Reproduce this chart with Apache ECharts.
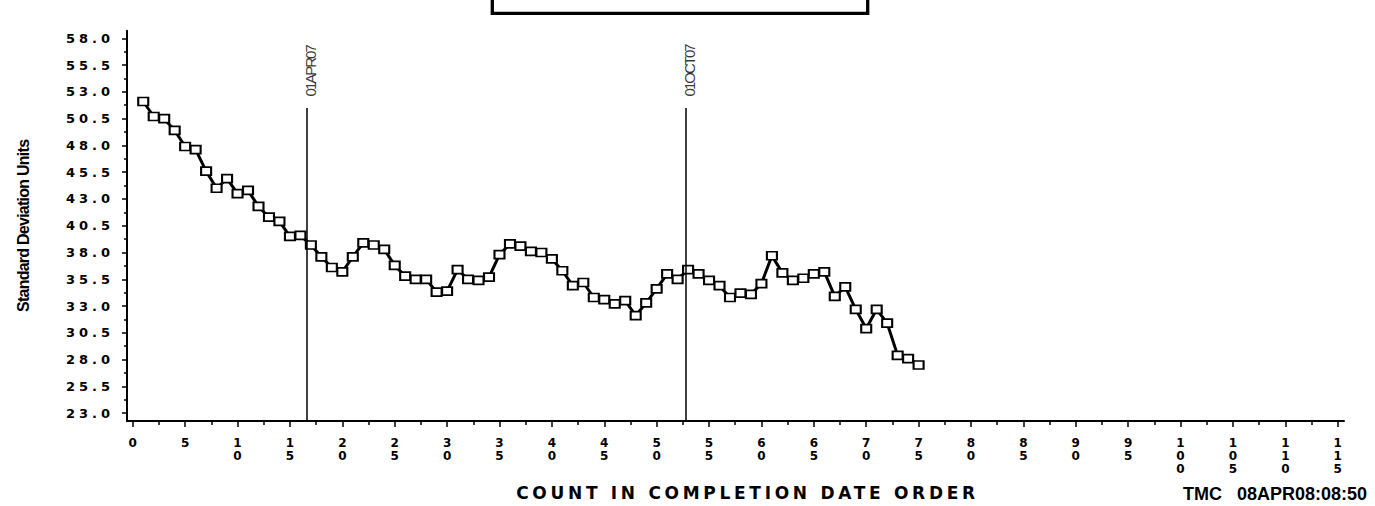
<!DOCTYPE html>
<html>
<head>
<meta charset="utf-8">
<script src="https://cdn.jsdelivr.net/npm/echarts@6/dist/echarts.min.js"></script>
<style>
html, body { margin: 0; padding: 0; background: #fff; }
#chart { width: 1375px; height: 506px; }
text[style*="zzlsa"] { letter-spacing: 4px; }
text[style*="zzlsb"] { letter-spacing: 3.7px; }
text[style*="zzlsc"] { letter-spacing: -2px; }
text[style*="zzlsd"] { letter-spacing: -0.75px; }
</style>
</head>
<body>
<div id="chart"></div>
<script>
// ---- data ----
const sdValues = [
  52.1, 50.7, 50.5, 49.4, 47.9, 47.6, 45.6, 44.0, 44.9, 43.5,
  43.8, 42.3, 41.3, 40.9, 39.5, 39.6, 38.7, 37.6, 36.6, 36.2,
  37.6, 38.9, 38.7, 38.3, 36.8, 35.8, 35.5, 35.5, 34.3, 34.4,
  36.4, 35.5, 35.4, 35.7, 37.8, 38.8, 38.6, 38.1, 38.0, 37.4,
  36.3, 34.9, 35.2, 33.8, 33.6, 33.2, 33.5, 32.1, 33.3, 34.6,
  36.0, 35.5, 36.4, 36.0, 35.4, 34.9, 33.8, 34.2, 34.1, 35.1,
  37.7, 36.1, 35.4, 35.6, 36.0, 36.2, 33.9, 34.8, 32.7, 30.9,
  32.7, 31.4, 28.4, 28.1, 27.5
];
const counts = sdValues.map((_, i) => i + 1);
const yTickLabels = ['23.0', '25.5', '28.0', '30.5', '33.0', '35.5', '38.0', '40.5', '43.0', '45.5', '48.0', '50.5', '53.0', '55.5', '58.0'];
const xTickValues = [0, 5, 10, 15, 20, 25, 30, 35, 40, 45, 50, 55, 60, 65, 70, 75, 80, 85, 90, 95, 100, 105, 110, 115];
const refLineX = [16.62, 52.8];
const refLineLabels = ['01APR07', '01OCT07'];
const xAxisTitle = 'COUNT IN COMPLETION DATE ORDER';
const yAxisTitle = 'Standard Deviation Units';
const footerText = 'TMC   08APR08:08:50';

// ---- axis ranges ----
const Y_MIN = 22.27, Y_MAX = 58.71;
const X_MIN = -0.55, X_MAX = 115.6;
const REF_TOP = 51.5;

const yMajor = yTickLabels.map(Number);
const yMinor = yMajor.slice(0, -1).map(v => v + 1.25);
const xMinor = xTickValues.map(v => v + 2.5).filter(v => v < X_MAX);

const WIDE_Y = 'DejaVu Sans, zzlsa';
const WIDE_T = 'DejaVu Sans, zzlsb';
const REF_FONT = 'Liberation Sans, zzlsc';
const YTITLE_FONT = 'Liberation Sans, zzlsd';

const chart = echarts.init(document.getElementById('chart'), null, { renderer: 'svg' });

const option = {
  animation: false,
  backgroundColor: '#fff',
  grid: { left: 127, right: 31, top: 30.7, bottom: 85, containLabel: false, outerBoundsMode: 'none' },
  xAxis: [
    {
      type: 'value', min: X_MIN, max: X_MAX, position: 'bottom',
      axisLine: { show: true, onZero: false, lineStyle: { color: '#000', width: 2 } },
      axisTick: { show: true, customValues: xTickValues, length: 6, lineStyle: { color: '#000', width: 1.5 } },
      axisLabel: {
        customValues: xTickValues,
        formatter: v => String(v).split('').join('\n'),
        color: '#000', fontFamily: 'DejaVu Sans', fontWeight: 'bold', fontSize: 12,
        lineHeight: 13, margin: 15
      },
      splitLine: { show: false },
      name: xAxisTitle, nameLocation: 'middle', nameGap: 63,
      nameTextStyle: { color: '#000', fontFamily: WIDE_T, fontWeight: 'bold', fontSize: 17, padding: [0, 0, 0, 24] }
    },
    {
      type: 'value', min: X_MIN, max: X_MAX, position: 'bottom',
      axisLine: { show: false, onZero: false },
      axisTick: { show: true, customValues: xMinor, length: 4, lineStyle: { color: '#000', width: 1.5 } },
      axisLabel: { show: false },
      splitLine: { show: false }
    }
  ],
  yAxis: [
    {
      type: 'value', min: Y_MIN, max: Y_MAX, position: 'left',
      axisLine: { show: true, onZero: false, lineStyle: { color: '#000', width: 2 } },
      axisTick: { show: true, customValues: yMajor, length: 5, lineStyle: { color: '#000', width: 1.5 } },
      axisLabel: {
        customValues: yMajor,
        formatter: v => v.toFixed(1),
        color: '#000', fontFamily: WIDE_Y, fontWeight: 'bold', fontSize: 13, margin: 13
      },
      splitLine: { show: false },
      name: yAxisTitle, nameLocation: 'middle', nameGap: 96, nameRotate: 90,
      nameTextStyle: { color: '#000', fontFamily: YTITLE_FONT, fontWeight: 'bold', fontSize: 16 }
    },
    {
      type: 'value', min: Y_MIN, max: Y_MAX, position: 'left',
      axisLine: { show: false, onZero: false },
      axisTick: { show: true, customValues: yMinor, length: 3, lineStyle: { color: '#000', width: 1.5 } },
      axisLabel: { show: false },
      splitLine: { show: false }
    }
  ],
  series: [
    {
      type: 'line', name: 'SD',
      xAxisIndex: 0, yAxisIndex: 0,
      data: counts.map((c, i) => [c, sdValues[i]]),
      symbol: 'rect', symbolSize: [10, 8], showAllSymbol: true,
      itemStyle: { color: '#fff', borderColor: '#000', borderWidth: 1.9 },
      lineStyle: { color: '#000', width: 3 },
      emphasis: { disabled: true },
      markLine: {
        silent: true, symbol: 'none', animation: false,
        label: { show: false },
        lineStyle: { color: '#000', width: 1.5, type: 'solid' },
        data: refLineX.map(x => [{ coord: [x, Y_MIN] }, { coord: [x, REF_TOP] }])
      }
    },
    {
      type: 'scatter', name: 'refLabels',
      xAxisIndex: 0, yAxisIndex: 0,
      symbolSize: 1,
      itemStyle: { color: 'rgba(0,0,0,0)' },
      data: refLineX.map((x, i) => ({ value: [x, REF_TOP], name: refLineLabels[i] })),
      label: {
        show: true, formatter: '{b}', position: 'top', distance: 11,
        rotate: 90, align: 'left', verticalAlign: 'middle', offset: [0, 4],
        color: '#000', fontFamily: REF_FONT, fontSize: 15
      },
      emphasis: { disabled: true },
      silent: true
    }
  ],
  graphic: [
    {
      type: 'rect', silent: true,
      shape: { x: 492.3, y: -10, width: 375.4, height: 23.3 },
      style: { fill: '#fff', stroke: '#000', lineWidth: 3.3 }
    },
    {
      type: 'text', silent: true, x: 1183, y: 485,
      style: { text: footerText, fill: '#000', fontFamily: 'Liberation Sans', fontWeight: 'bold', fontSize: 18, verticalAlign: 'top' }
    }
  ]
};

chart.setOption(option);
</script>
</body>
</html>
